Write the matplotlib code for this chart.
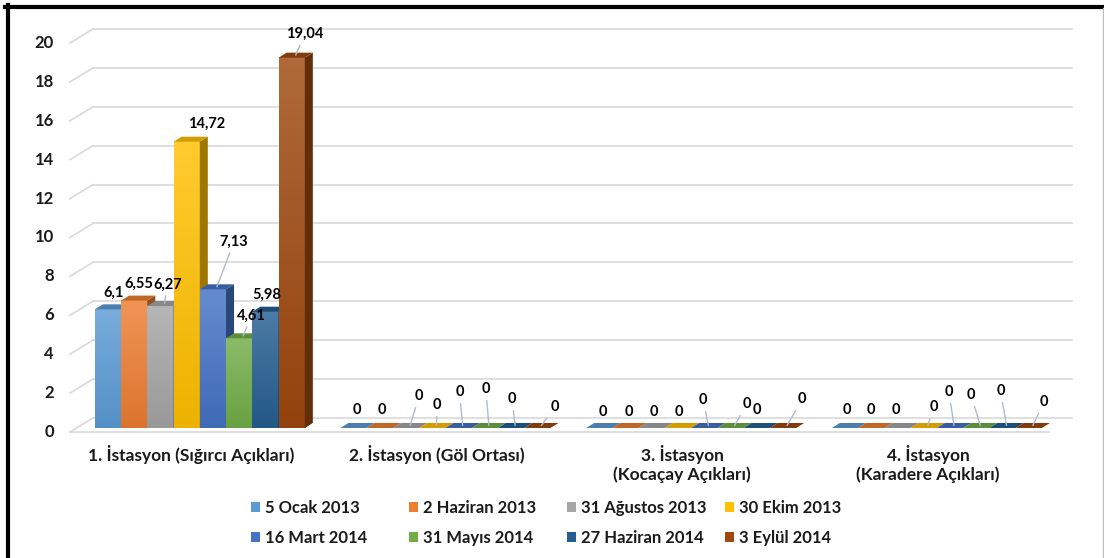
import numpy as np
import matplotlib
matplotlib.use('Agg')
import matplotlib.pyplot as plt
from matplotlib.patches import Polygon, Rectangle
from matplotlib.colors import to_rgb, LinearSegmentedColormap
from matplotlib.lines import Line2D

# --- DATEN ---
istasyonlar = ['1. İstasyon (Sığırcı Açıkları)', '2. İstasyon (Göl Ortası)',
               '3. İstasyon\n(Kocaçay Açıkları)', '4. İstasyon\n(Karadere Açıkları)']
tarihler = ['5 Ocak 2013', '2 Haziran 2013', '31 Ağustos 2013', '30 Ekim 2013',
            '16 Mart 2014', '31 Mayıs 2014', '27 Haziran 2014', '3 Eylül 2014']

# Werte je Station, Reihenfolge wie tarihler
istasyon1 = [6.1, 6.55, 6.27, 14.72, 7.13, 4.61, 5.98, 19.04]
istasyon2 = [0, 0, 0, 0, 0, 0, 0, 0]
istasyon3 = [0, 0, 0, 0, 0, 0, 0, 0]
istasyon4 = [0, 0, 0, 0, 0, 0, 0, 0]
werte = [istasyon1, istasyon2, istasyon3, istasyon4]

y_ticks = [0, 2, 4, 6, 8, 10, 12, 14, 16, 18, 20]

# --- STIL ---
renkler = ['#5B9BD5', '#ED7D31', '#A5A5A5', '#FFC000',
           '#4472C4', '#70AD47', '#255E91', '#9E480E']

# Label-Versatz in Pixeln (dx, nach oben) relativ zur Balkenspitze
label_versatz = [
    [(2, 14), (1, 14), (3, 19), (16, 15), (17, 45), (8, 20), (-3, 14), (9, 21)],
    [(-1, 15), (-2, 15), (9, 29), (1, 20), (-3, 33), (-3, 36), (-3, 26), (13, 18)],
    [(0, 13), (-1, 13), (-2, 13), (-3, 13), (-5, 25), (12, 21), (-4, 15), (15, 26)],
    [(-2, 15), (-4, 15), (-6, 15), (6, 18), (-5, 33), (-9, 30), (-6, 34), (11, 23)],
]
mit_linie = [
    [False, False, True, False, True, True, False, True],
    [False, False, True, True, True, True, True, True],
    [False, False, False, False, True, True, False, True],
    [False, False, False, True, True, True, True, True],
]

schrift = 'Lato'
text_farbe = '#1a1a1a'
grid_farbe = '#d9d9d9'
linien_farbe = '#aebbcc'

# --- GRAFIK ---
fig = plt.figure(figsize=(11.04, 5.58), dpi=100)
ax = fig.add_axes([0.0697, 0.233, 0.8902, 0.6971])
ax.set_xlim(-0.5, 3.5)
ax.set_ylim(0, 20)
ax.set_autoscale_on(False)
ax.axis('off')

# Pixel pro Dateneinheit
sx = ax.bbox.width / 4.0
sy = ax.bbox.height / 20.0

tiefe_x, tiefe_y = 8 / sx, 5 / sy        # Balkentiefe
hinten_x, hinten_y = 16 / sx, 10 / sy    # Rückwand
vorne_x, vorne_y = -7 / sx, -4 / sy      # Vorderkante Boden
x_ende = 3.485

# Gitterlinien (Rückwand + schräge Seitenwand)
for y in y_ticks:
    ax.plot([-0.5 + hinten_x, x_ende + hinten_x], [y + hinten_y, y + hinten_y],
            color=grid_farbe, lw=1.2, zorder=1, clip_on=False)
    ax.plot([-0.5 + vorne_x, -0.5 + hinten_x], [y + vorne_y, y + hinten_y],
            color=grid_farbe, lw=1.2, zorder=1, clip_on=False)
ax.plot([-0.5 + vorne_x, x_ende + vorne_x], [vorne_y, vorne_y],
        color=grid_farbe, lw=1.2, zorder=1, clip_on=False)

# y-Achsenbeschriftung
for y in y_ticks:
    ax.annotate(str(y), xy=(-0.5, y), xytext=(-23, -4), textcoords='offset pixels',
                ha='right', va='center', fontsize=12, fontweight='bold',
                family=schrift, color=text_farbe, annotation_clip=False)

# Kategorien
for c, name in enumerate(istasyonlar):
    ax.annotate(name, xy=(c, 0), xytext=(-9, -17), textcoords='offset pixels',
                ha='center', va='top', fontsize=12.5, fontweight='bold',
                family=schrift, color=text_farbe, linespacing=1.15,
                annotation_clip=False)

# 3D-Balken
bw = 0.855 / 8
grad = np.linspace(0, 1, 64).reshape(-1, 1)
for c in range(4):
    for i in range(8):
        h = werte[c][i]
        x0 = c - 4 * bw + i * bw
        basis = np.array(to_rgb(renkler[i]))
        z = 3 + i * 0.1
        if h > 0:
            hell = basis + (1 - basis) * 0.18
            dunkel = basis * 0.93
            cmap = LinearSegmentedColormap.from_list('g', [dunkel, hell])
            ax.imshow(grad, extent=[x0, x0 + bw, 0, h], origin='lower', aspect='auto',
                      cmap=cmap, zorder=z, interpolation='bilinear')
            seite = Polygon([(x0 + bw, 0), (x0 + bw + tiefe_x, tiefe_y),
                             (x0 + bw + tiefe_x, h + tiefe_y), (x0 + bw, h)],
                            closed=True, facecolor=basis * 0.62, edgecolor='none', zorder=z + 0.01)
            ax.add_patch(seite)
        oben = Polygon([(x0, h), (x0 + bw, h), (x0 + bw + tiefe_x, h + tiefe_y),
                        (x0 + tiefe_x, h + tiefe_y)],
                       closed=True, facecolor=basis * 0.82, edgecolor='none', zorder=z + 0.01)
        ax.add_patch(oben)

        # Datenbeschriftung
        dx, dy = label_versatz[c][i]
        txt = ('%g' % h).replace('.', ',')
        arrow = None
        if mit_linie[c][i]:
            arrow = dict(arrowstyle='-', color=linien_farbe, lw=1.0, shrinkA=1, shrinkB=0)
        ax.annotate(txt, xy=(x0 + bw / 2 + tiefe_x / 2, h + tiefe_y / 2),
                    xytext=(dx, dy), textcoords='offset pixels',
                    ha='center', va='center', fontsize=10.5, fontweight='bold',
                    family=schrift, color='black', arrowprops=arrow,
                    annotation_clip=False, zorder=10)

ax.set_xlim(-0.5, 3.5)
ax.set_ylim(0, 20)

# Legende: 4 Spalten mit gleicher Breite (wie in Excel), zeilenweise gefüllt
handles = [Rectangle((0, 0), 1, 1, facecolor=r, edgecolor='none') for r in renkler]
for j in range(4):
    leg = fig.legend([handles[j], handles[j + 4]], [tarihler[j], tarihler[j + 4]],
                     loc='center left', bbox_to_anchor=((251 + 158 * j) / 1104, 0.0627),
                     ncol=1, frameon=False, borderpad=0, borderaxespad=0,
                     handlelength=0.55, handleheight=0.55, handletextpad=0.3,
                     labelspacing=0.8,
                     prop={'family': schrift, 'weight': 'bold', 'size': 12},
                     labelcolor=text_farbe)

# Rahmen
fig.add_artist(Line2D([5 / 1104, 1], [1 - 6.5 / 558] * 2, transform=fig.transFigure,
                      color='black', lw=3))
fig.add_artist(Line2D([7.5 / 1104] * 2, [0, 1 - 5 / 558], transform=fig.transFigure,
                      color='black', lw=3))
fig.add_artist(Line2D([1102.5 / 1104] * 2, [0, 1 - 8 / 558], transform=fig.transFigure,
                      color='#bfbfbf', lw=1))

plt.savefig('out.png', dpi=100)
